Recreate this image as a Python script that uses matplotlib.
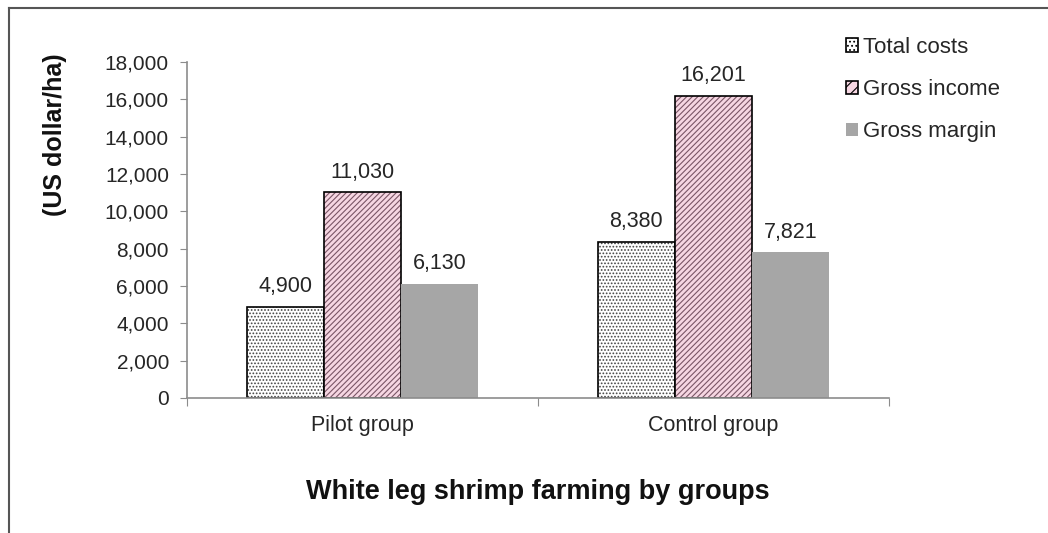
import matplotlib.pyplot as plt
from matplotlib.lines import Line2D
import numpy as np

plt.rcParams['font.family'] = ['Liberation Sans', 'DejaVu Sans']
plt.rcParams['hatch.linewidth'] = 0.8

groups = ['Pilot group', 'Control group']
series_names = ['Total costs', 'Gross income', 'Gross margin']
total_costs = [4900, 8380]
gross_income = [11030, 16201]
gross_margin = [6130, 7821]
y_ticks = [0, 2000, 4000, 6000, 8000, 10000, 12000, 14000, 16000, 18000]

fig = plt.figure(figsize=(10.48, 5.33), dpi=100)
ax = fig.add_axes([0.1784, 0.2533, 0.6698, 0.6304])

x = np.arange(len(groups))
w = 0.22
axis_col = '#8c8c8c'
txt_col = '#262626'

# Total costs: dotted pattern on white
ax.bar(x - w, total_costs, w, color='white', edgecolor='#444444', hatch='.....', linewidth=0)
ax.bar(x - w, total_costs, w, fill=False, edgecolor='black', linewidth=1.2)
# Gross income: diagonal stripes on pink
ax.bar(x, gross_income, w, color='#f6d6e2', edgecolor='#7a5566', hatch='//////', linewidth=0)
ax.bar(x, gross_income, w, fill=False, edgecolor='black', linewidth=1.2)
# Gross margin: solid gray
ax.bar(x + w, gross_margin, w, color='#a6a6a6', linewidth=0)

for offs, vals in zip([-w, 0, w], [total_costs, gross_income, gross_margin]):
    for xi, v in zip(x, vals):
        ax.text(xi + offs, v + 500, f'{v:,}', ha='center', va='bottom', fontsize=15.5, color=txt_col)

ax.set_xlim(-0.5, 1.5)
ax.set_ylim(0, 18000)
ax.set_yticks(y_ticks)
ax.set_yticklabels([f'{t:,}' for t in y_ticks], fontsize=15, color=txt_col)
ax.set_xticks([-0.5, 0.5, 1.5])
ax.set_xticklabels([])
ax.set_xticks(x, minor=True)
ax.set_xticklabels(groups, minor=True, fontsize=15.5, color=txt_col)
ax.tick_params(axis='x', which='minor', length=0, pad=12)
ax.tick_params(axis='x', which='major', length=6, color=axis_col, direction='out')
ax.tick_params(axis='y', length=5, color=axis_col, direction='out', pad=8)

for s in ['top', 'right']:
    ax.spines[s].set_visible(False)
for s in ['left', 'bottom']:
    ax.spines[s].set_color(axis_col)
    ax.spines[s].set_linewidth(1.2)

fig.text(55 / 1048, 1 - 135 / 533, '(US dollar/ha)', rotation=90, ha='center', va='center',
         fontsize=18, fontweight='bold', color='#111111')
fig.text(ax.get_position().x0 + ax.get_position().width / 2, 1 - 492 / 533,
         'White leg shrimp farming by groups', ha='center', va='center',
         fontsize=19.5, fontweight='bold', color='#111111')

handles = [
    plt.Rectangle((0, 0), 1, 1, facecolor='white', edgecolor='black', hatch='....', linewidth=1.2),
    plt.Rectangle((0, 0), 1, 1, facecolor='#f6d6e2', edgecolor='black', hatch='///', linewidth=1.2),
    plt.Rectangle((0, 0), 1, 1, facecolor='#a6a6a6', edgecolor='none'),
]
leg = fig.legend(handles, series_names, loc='upper left', bbox_to_anchor=(846 / 1048, 1 - 37 / 533),
                 frameon=False, fontsize=16, handlelength=0.55, handleheight=0.55,
                 handletextpad=0.2, labelspacing=0.95, borderaxespad=0, borderpad=0)
for t in leg.get_texts():
    t.set_color(txt_col)

# outer frame (left and top edges visible)
fig.add_artist(Line2D([0.0090, 0.0090], [0.0, 0.985], transform=fig.transFigure, color='#555555', linewidth=1.5))
fig.add_artist(Line2D([0.0090, 1.0], [0.985, 0.985], transform=fig.transFigure, color='#555555', linewidth=1.5))

fig.savefig('out.png', dpi=100)
